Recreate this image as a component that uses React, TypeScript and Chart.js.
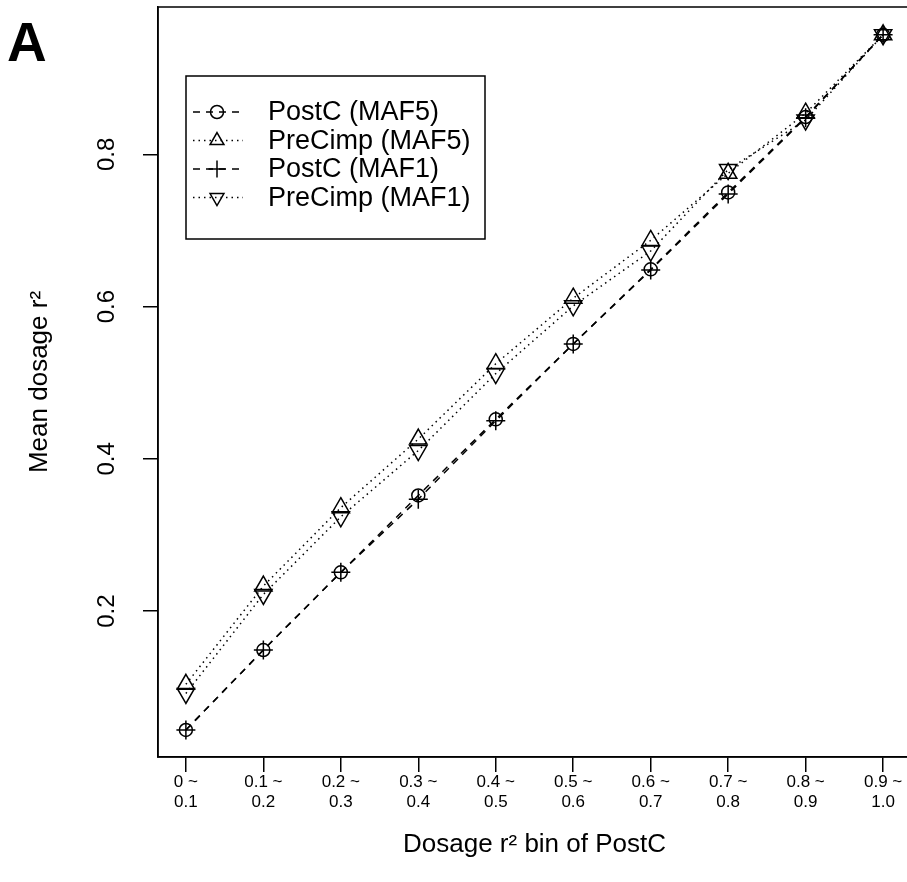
import React, { useEffect, useRef } from "react";
import { Chart, registerables } from "chart.js";

Chart.register(...registerables);

// ---------- data ----------
const binIndex = [1, 2, 3, 4, 5, 6, 7, 8, 9, 10];
const binLabels = [
  ["0 ~", "0.1"],
  ["0.1 ~", "0.2"],
  ["0.2 ~", "0.3"],
  ["0.3 ~", "0.4"],
  ["0.4 ~", "0.5"],
  ["0.5 ~", "0.6"],
  ["0.6 ~", "0.7"],
  ["0.7 ~", "0.8"],
  ["0.8 ~", "0.9"],
  ["0.9 ~", "1.0"],
];
const postcMaf5 = [0.044, 0.149, 0.251, 0.352, 0.452, 0.551, 0.649, 0.75, 0.849, 0.957];
const precimpMaf5 = [0.104, 0.233, 0.336, 0.426, 0.525, 0.611, 0.687, 0.775, 0.854, 0.957];
const postcMaf1 = [0.044, 0.149, 0.251, 0.347, 0.45, 0.551, 0.648, 0.748, 0.848, 0.957];
const precimpMaf1 = [0.092, 0.222, 0.324, 0.411, 0.512, 0.601, 0.673, 0.78, 0.845, 0.957];
const yTickValues = [0.2, 0.4, 0.6, 0.8];
const yTickLabels = ["0.2", "0.4", "0.6", "0.8"];
const seriesNames = ["PostC (MAF5)", "PreCimp (MAF5)", "PostC (MAF1)", "PreCimp (MAF1)"];
const xTitle = "Dosage r\u00B2 bin of PostC";
const yTitle = "Mean dosage r\u00B2";
const panelLabel = "A";

const FONT = "'Liberation Sans', Arial, Helvetica, sans-serif";
const DASH = [7, 6];
const DOT = [1.5, 4];

type Style = { dash: number[]; point: string; radius: number; rotation: number };
const styles: Style[] = [
  { dash: DASH, point: "circle", radius: 6.5, rotation: 0 },
  { dash: DOT, point: "triangle", radius: 10, rotation: 0 },
  { dash: DASH, point: "cross", radius: 9.5, rotation: 0 },
  { dash: DOT, point: "triangle", radius: 10, rotation: 180 },
];
const seriesValues = [postcMaf5, precimpMaf5, postcMaf1, precimpMaf1];

function drawMarker(ctx: CanvasRenderingContext2D, s: Style, x: number, y: number) {
  ctx.save();
  ctx.setLineDash([]);
  ctx.lineWidth = 1.5;
  ctx.strokeStyle = "#000";
  ctx.beginPath();
  const r = s.radius;
  if (s.point === "circle") {
    ctx.arc(x, y, r, 0, Math.PI * 2);
  } else if (s.point === "cross") {
    ctx.moveTo(x - r, y);
    ctx.lineTo(x + r, y);
    ctx.moveTo(x, y - r);
    ctx.lineTo(x, y + r);
  } else {
    let rad = (s.rotation * Math.PI) / 180;
    ctx.moveTo(x + Math.sin(rad) * r, y - Math.cos(rad) * r);
    for (let i = 0; i < 2; i++) {
      rad += (2 * Math.PI) / 3;
      ctx.lineTo(x + Math.sin(rad) * r, y - Math.cos(rad) * r);
    }
    ctx.closePath();
  }
  ctx.stroke();
  ctx.restore();
}

const decorPlugin = {
  id: "decor",
  afterDraw(chart: any) {
    const { ctx, chartArea } = chart;
    ctx.save();
    // plot box
    ctx.strokeStyle = "#000";
    ctx.lineWidth = 1.5;
    ctx.setLineDash([]);
    ctx.strokeRect(chartArea.left, chartArea.top, chartArea.right - chartArea.left, chartArea.bottom - chartArea.top);

    // legend
    const bx = 186, by = 76, bw = 299, bh = 163;
    ctx.strokeRect(bx, by, bw, bh);
    const rowY0 = 112, rowGap = 28.5;
    ctx.font = `27px ${FONT}`;
    ctx.fillStyle = "#000";
    ctx.textBaseline = "middle";
    ctx.textAlign = "left";
    styles.forEach((s, i) => {
      const y = rowY0 + i * rowGap;
      ctx.save();
      ctx.lineWidth = 1.5;
      ctx.setLineDash(s.dash);
      ctx.beginPath();
      ctx.moveTo(193, y);
      ctx.lineTo(243, y);
      ctx.stroke();
      ctx.restore();
      drawMarker(ctx, { ...s, radius: s.point === "triangle" ? 8 : s.point === "cross" ? 8.5 : 6.5 }, 217, y);
      ctx.fillText(seriesNames[i], 268, y + 1);
    });

    // panel label
    ctx.font = `bold 55px ${FONT}`;
    ctx.textBaseline = "alphabetic";
    ctx.fillText(panelLabel, 7, 61);
    ctx.restore();
  },
};

export default function App() {
  const canvasRef = useRef<HTMLCanvasElement | null>(null);

  useEffect(() => {
    const canvas = canvasRef.current;
    if (!canvas) return;
    Chart.defaults.font.family = FONT;
    Chart.defaults.color = "#000";

    const datasets = seriesValues.map((vals, i) => {
      const s = styles[i];
      return {
        label: seriesNames[i],
        data: binIndex.map((x, j) => ({ x, y: vals[j] })),
        borderColor: "#000",
        borderWidth: 1.5,
        borderDash: s.dash,
        backgroundColor: "rgba(0,0,0,0)",
        fill: false,
        tension: 0,
        pointStyle: s.point,
        pointRotation: s.rotation,
        pointRadius: s.radius,
        pointHoverRadius: s.radius,
        pointBorderWidth: 1.5,
        pointBorderColor: "#000",
        pointBackgroundColor: "rgba(0,0,0,0)",
      };
    });

    const chart = new Chart(canvas, {
      type: "line",
      data: { datasets },
      plugins: [decorPlugin],
      options: {
        animation: false,
        responsive: false,
        maintainAspectRatio: false,
        devicePixelRatio: 1,
        events: [],
        layout: { autoPadding: false, padding: { top: 7, right: 9, left: 0, bottom: 0 } },
        plugins: {
          legend: { display: false },
          tooltip: { enabled: false },
          title: { display: false },
        },
        scales: {
          x: {
            type: "linear",
            min: 0.64,
            max: 10.36,
            afterBuildTicks: (scale: any) => {
              scale.ticks = binIndex.map((v) => ({ value: v }));
            },
            afterFit: (scale: any) => {
              scale.height = 125;
              scale.paddingLeft = 0;
              scale.paddingRight = 0;
            },
            ticks: {
              autoSkip: false,
              maxRotation: 0,
              minRotation: 0,
              padding: 0,
              color: "#000",
              font: { size: 17, family: FONT, lineHeight: 1.2 },
              callback: (v: any) => {
                const idx = binIndex.indexOf(Number(v));
                return idx >= 0 ? binLabels[idx] : "";
              },
            },
            grid: {
              drawOnChartArea: false,
              drawTicks: true,
              tickLength: 15,
              color: "#000",
              lineWidth: 1.5,
            },
            border: { display: true, color: "#000", width: 1.5 },
            title: {
              display: true,
              text: xTitle,
              color: "#000",
              font: { size: 26, family: FONT, lineHeight: 1.2 },
              padding: { top: 0, bottom: 22 },
            },
          },
          y: {
            type: "linear",
            min: 0.0085,
            max: 0.9935,
            afterBuildTicks: (scale: any) => {
              scale.ticks = yTickValues.map((v) => ({ value: v }));
            },
            afterFit: (scale: any) => {
              scale.width = 158;
              scale.paddingTop = 0;
              scale.paddingBottom = 0;
            },
            ticks: {
              autoSkip: false,
              minRotation: 90,
              maxRotation: 90,
              crossAlign: "center",
              padding: 19,
              color: "#000",
              font: { size: 24, family: FONT },
              callback: (v: any) => {
                const idx = yTickValues.indexOf(Number(v));
                return idx >= 0 ? yTickLabels[idx] : "";
              },
            },
            grid: {
              drawOnChartArea: false,
              drawTicks: true,
              tickLength: 15,
              color: "#000",
              lineWidth: 1.5,
            },
            border: { display: true, color: "#000", width: 1.5 },
            title: {
              display: true,
              text: yTitle,
              color: "#000",
              font: { size: 26, family: FONT, lineHeight: 1.2 },
              padding: { top: 24, bottom: 0 },
            },
          },
        },
      } as any,
    });

    return () => chart.destroy();
  }, []);

  return (
    <div
      style={{
        position: "fixed",
        left: 0,
        top: 0,
        width: 907,
        height: 882,
        overflow: "hidden",
        background: "#fff",
      }}
    >
      <canvas
        ref={canvasRef}
        width={920}
        height={882}
        style={{ display: "block", width: 920, height: 882 }}
      />
    </div>
  );
}
